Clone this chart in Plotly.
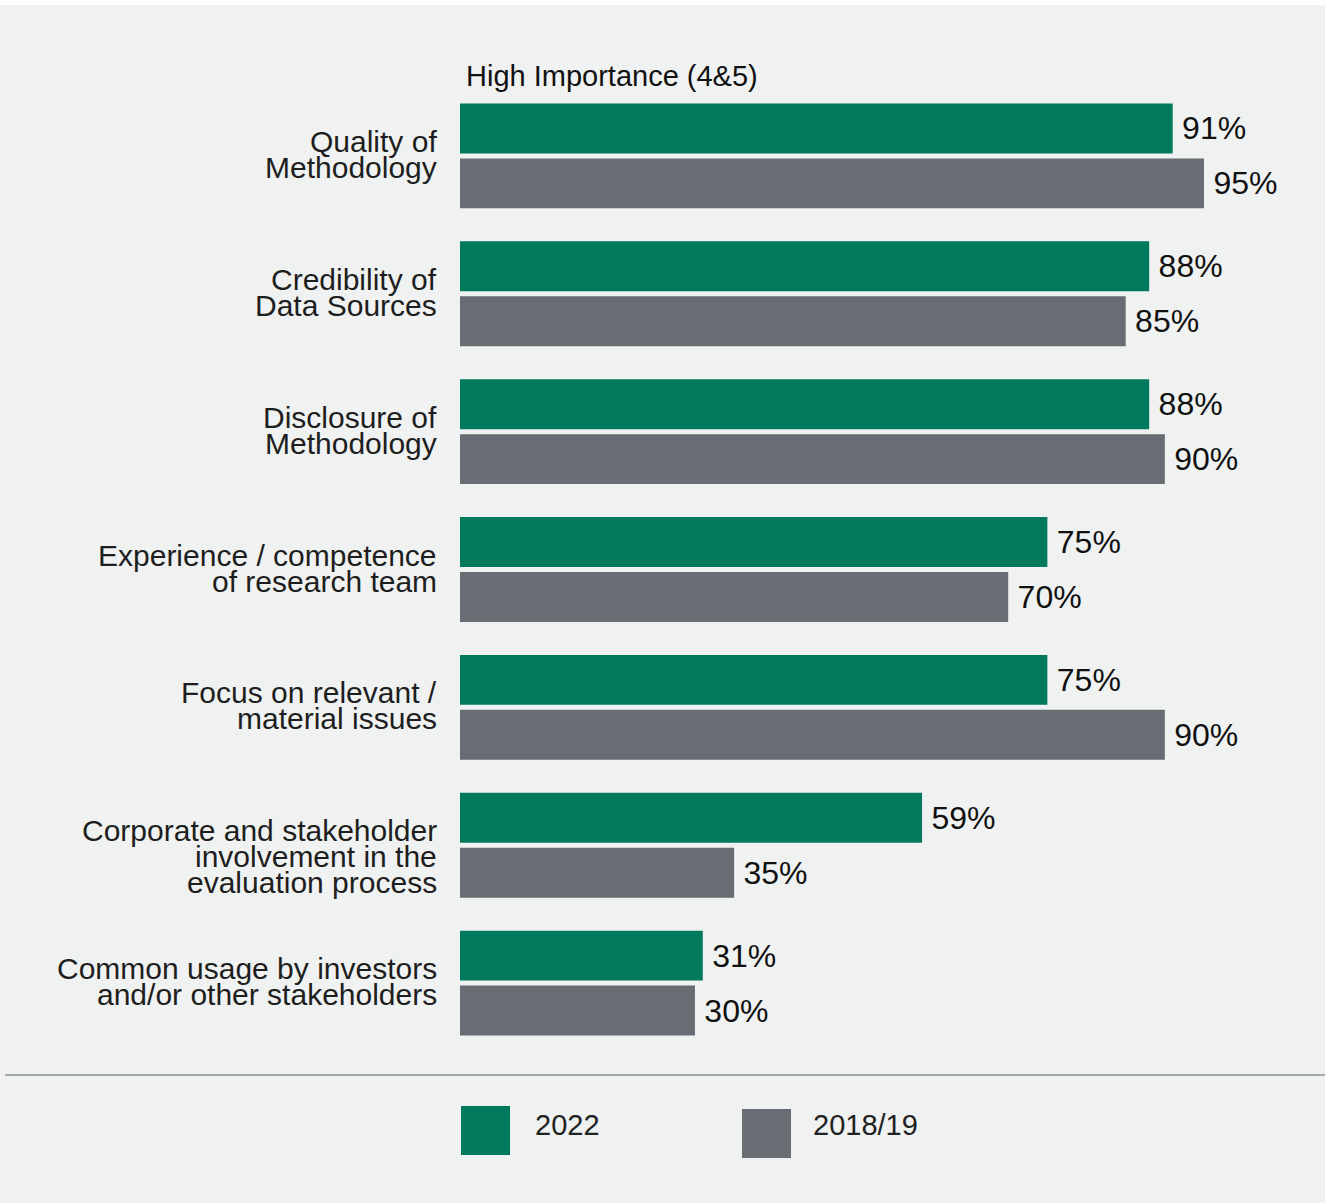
import plotly.graph_objects as go

categories = [
    "Quality of Methodology",
    "Credibility of Data Sources",
    "Disclosure of Methodology",
    "Experience / competence of research team",
    "Focus on relevant / material issues",
    "Corporate and stakeholder involvement in the evaluation process",
    "Common usage by investors and/or other stakeholders",
]
label_lines = [
    ["Quality of", "Methodology"],
    ["Credibility of", "Data Sources"],
    ["Disclosure of", "Methodology"],
    ["Experience / competence", "of research team"],
    ["Focus on relevant /", "material issues"],
    ["Corporate and stakeholder", "involvement in the", "evaluation process"],
    ["Common usage by investors", "and/or other stakeholders"],
]
values_2022 = [91, 88, 88, 75, 75, 59, 31]
values_2018 = [95, 85, 90, 70, 90, 35, 30]
series_names = ["2022", "2018/19"]
title_text = "High Importance (4&5)"

GREEN = "#00795d"
GRAY = "#676d72"
BG = "#f0f2f1"
FONT = "Liberation Sans"

W, H = 1325, 1203
ML, MR, MT, MB = 460, 0, 87, 151
PW = W - ML - MR
PH = H - MT - MB


def px_x(px):
    return (px - ML) / PW


def px_y(py):
    return (H - MB - py) / PH


fig = go.Figure()
for name, vals, col in [(series_names[0], values_2022, GREEN), (series_names[1], values_2018, GRAY)]:
    fig.add_trace(go.Bar(
        y=categories, x=vals, name=name, orientation="h",
        marker=dict(color=col, line=dict(width=0)),
        text=[f"\u2009{v}%" for v in vals], textposition="outside",
        textfont=dict(family=FONT, size=32, color="#111111"),
        constraintext="none", cliponaxis=False, showlegend=False,
        hoverinfo="skip",
    ))

annotations = []
annotations.append(dict(
    text=title_text, xref="paper", yref="paper", x=0, y=1, xanchor="left",
    yanchor="middle", xshift=4, yshift=11, showarrow=False,
    font=dict(family=FONT, size=29, color="#111111"),
))
for cat, lines in zip(categories, label_lines):
    for i, ln in enumerate(lines):
        annotations.append(dict(
            text=ln, xref="paper", yref="y", x=0, y=cat, xanchor="right",
            yanchor="middle", xshift=-21, yshift=14.5 - 26 * i, showarrow=False,
            font=dict(family=FONT, size=30, color="#1e1e1e"),
        ))

shapes = [
    dict(type="rect", xref="paper", yref="paper", x0=px_x(0), x1=px_x(W),
         y0=px_y(5), y1=px_y(0), fillcolor="white", line=dict(width=0), layer="below"),
    dict(type="line", xref="paper", yref="paper", x0=px_x(5), x1=px_x(W),
         y0=px_y(1075), y1=px_y(1075), line=dict(color="#8a8f93", width=1.5)),
]
# legend
leg = [(series_names[0], GREEN, 461, 1106, 533), (series_names[1], GRAY, 742, 1109, 811)]
for name, col, x0, y0, tx in leg:
    shapes.append(dict(type="rect", xref="paper", yref="paper", x0=px_x(x0), x1=px_x(x0 + 49),
                       y0=px_y(y0 + 49), y1=px_y(y0), fillcolor=col, line=dict(width=0)))
    annotations.append(dict(
        text=name, xref="paper", yref="paper", x=px_x(tx), y=px_y(1125),
        xanchor="left", yanchor="middle", showarrow=False,
        font=dict(family=FONT, size=29, color="#222222"),
    ))

fig.update_layout(
    width=W, height=H,
    margin=dict(l=ML, r=MR, t=MT, b=MB, pad=0),
    paper_bgcolor=BG, plot_bgcolor=BG,
    barmode="group", bargap=0.203, bargroupgap=0.091,
    xaxis=dict(range=[0, 110.45], visible=False, fixedrange=True),
    yaxis=dict(autorange="reversed", showticklabels=False, showgrid=False,
               zeroline=False, showline=False, ticks="", fixedrange=True),
    annotations=annotations, shapes=shapes,
)

fig.write_html(
    "out.html",
    config={"displayModeBar": False},
    post_script="document.body.style.margin='0px';document.body.style.overflow='hidden';",
)
